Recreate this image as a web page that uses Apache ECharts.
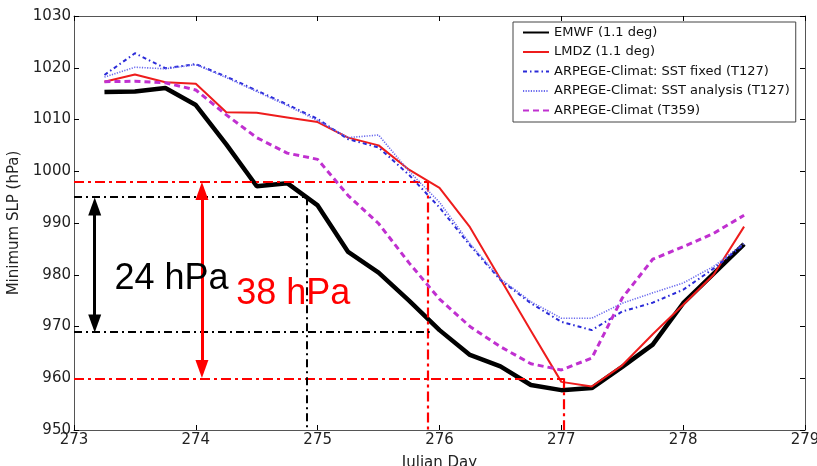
<!DOCTYPE html>
<html>
<head>
<meta charset="utf-8">
<script src="https://cdn.jsdelivr.net/npm/echarts@6/dist/echarts.min.js"></script>
<style>
html,body{margin:0;padding:0;background:#fff;}
#chart{width:817px;height:466px;}
</style>
</head>
<body>
<div id="chart"></div>
<script>
// ---- data ----
const days = [273.25, 273.5, 273.75, 274, 274.25, 274.5, 274.75, 275, 275.25, 275.5, 275.75, 276, 276.25, 276.5, 276.75, 277, 277.25, 277.5, 277.75, 278, 278.25, 278.5];
const emwf = [1015.3, 1015.4, 1016.1, 1012.8, 1005.2, 997.1, 997.7, 993.4, 984.4, 980.4, 975.0, 969.3, 964.5, 962.3, 958.7, 957.7, 958.1, 962.2, 966.5, 974.5, 980.2, 985.9];
const lmdz = [1017.3, 1018.7, 1017.2, 1016.9, 1011.4, 1011.3, 1010.4, 1009.5, 1006.5, 1005.0, 1000.3, 996.8, 989.2, 979.2, 969.2, 959.3, 958.4, 962.5, 968.5, 974.2, 980.0, 989.3];
const sstFixed = [1018.6, 1022.8, 1019.9, 1020.7, 1018.3, 1015.6, 1012.9, 1010.1, 1006.2, 1004.6, 999.3, 993.0, 985.7, 979.0, 974.5, 970.9, 969.3, 972.9, 974.6, 977.1, 981.2, 985.9];
const sstAnalysis = [1018.2, 1020.1, 1019.8, 1020.6, 1018.1, 1015.4, 1012.7, 1009.8, 1006.5, 1007.0, 1000.0, 994.0, 986.0, 979.2, 974.8, 971.6, 971.6, 974.5, 976.5, 978.4, 981.6, 986.1];
const arpegeT359 = [1017.3, 1017.4, 1017.1, 1015.7, 1010.9, 1006.5, 1003.5, 1002.3, 995.3, 989.9, 982.3, 975.3, 970.0, 966.1, 962.8, 961.6, 963.9, 975.5, 983.0, 985.4, 988.0, 991.5];

const seriesNames = ['EMWF (1.1 deg)', 'LMDZ (1.1 deg)', 'ARPEGE-Climat: SST fixed (T127)', 'ARPEGE-Climat: SST analysis (T127)', 'ARPEGE-Climat (T359)'];

// axis ranges / ticks
const xMin = 273, xMax = 279, xStep = 1;
const yMin = 950, yMax = 1030, yStep = 10;

// annotation (reference lines, arrows, texts) in data units
const redRefSegments = [
  [[273, 998], [275.9, 998]],
  [[275.9, 998], [275.9, 950]],
  [[273, 960], [277.02, 960]],
  [[277.02, 960], [277.02, 950]]
];
const blackRefSegments = [
  [[273, 995], [274.91, 995]],
  [[274.91, 995], [274.91, 950]],
  [[273, 969], [275.92, 969]]
];
const blackArrow = [[273.17, 993.2], [273.17, 970.6]];
const redArrow = [[274.05, 996.2], [274.05, 961.8]];
const notes = [
  { text: '24 hPa', x: 273.8, y: 979.2, color: '#000000' },
  { text: '38 hPa', x: 274.8, y: 976.2, color: '#ff0000' }
];

// ---- chart ----
const FONT = 'DejaVu Sans';
const pairs = vals => days.map((d, i) => [d, vals[i]]);

const chart = echarts.init(document.getElementById('chart'), null, { renderer: 'canvas' });

const lineStyles = [
  { color: '#000000', width: 4.5, type: 'solid' },
  { color: '#ee1c1c', width: 2, type: 'solid' },
  { color: '#2a2ad8', width: 2, type: [4, 3, 1.5, 3] },
  { color: '#6a6aee', width: 1.6, type: [1.2, 1.4] },
  { color: '#c030d0', width: 3, type: [6, 4] }
];
const dataSets = [emwf, lmdz, sstFixed, sstAnalysis, arpegeT359];

const dataSeries = dataSets.map((vals, k) => ({
  name: seriesNames[k],
  type: 'line',
  data: pairs(vals),
  showSymbol: false,
  symbol: 'none',
  smooth: false,
  animation: false,
  lineStyle: lineStyles[k],
  itemStyle: { color: lineStyles[k].color },
  z: 3 + k
}));

const annotSeries = {
  name: 'annot',
  type: 'line',
  data: [],
  animation: false,
  z: 2,
  markLine: {
    silent: true,
    animation: false,
    symbol: ['none', 'none'],
    label: { show: false },
    data: [
      ...redRefSegments.map(s => [{ coord: s[0], lineStyle: { color: '#ff0000', width: 2.2, type: [10, 4, 3, 4] } }, { coord: s[1] }]),
      ...blackRefSegments.map(s => [{ coord: s[0], lineStyle: { color: '#000000', width: 2, type: [8, 4, 2, 4] } }, { coord: s[1] }])
    ]
  }
};

const arrowSeries = {
  name: 'arrows',
  type: 'line',
  data: [],
  animation: false,
  z: 10,
  markLine: {
    silent: true,
    animation: false,
    symbol: ['triangle', 'triangle'],
    symbolSize: [13, 18],
    label: { show: false },
    data: [
      [{ coord: blackArrow[0], lineStyle: { color: '#000000', width: 3, type: 'solid' }, itemStyle: { color: '#000000' } }, { coord: blackArrow[1] }],
      [{ coord: redArrow[0], lineStyle: { color: '#ff0000', width: 3, type: 'solid' }, itemStyle: { color: '#ff0000' } }, { coord: redArrow[1] }]
    ]
  },
  markPoint: {
    silent: true,
    animation: false,
    symbol: 'circle',
    symbolSize: 0,
    data: notes.map(n => ({
      coord: [n.x, n.y],
      name: n.text,
      label: {
        show: true, position: 'inside', formatter: n.text,
        color: n.color, fontSize: 36, fontFamily: 'Liberation Sans'
      }
    }))
  }
};

const axisLineStyle = { color: '#555555', width: 1 };
const tickStyle = { color: '#000000', width: 1 };
const plainNum = v => String(v);

chart.setOption({
  backgroundColor: '#ffffff',
  animation: false,
  grid: { left: 74, right: 12, top: 16, bottom: 36, show: false, containLabel: false, outerBoundsMode: 'none' },
  legend: {
    data: seriesNames,
    orient: 'vertical',
    left: 513, top: 22,
    itemWidth: 26, itemHeight: 14, itemGap: 6.5,
    padding: [4, 6, 5, 9],
    backgroundColor: '#ffffff',
    borderColor: '#444444', borderWidth: 1,
    borderRadius: 0,
    itemStyle: { opacity: 0, borderWidth: 0 },
    textStyle: { fontFamily: FONT, fontSize: 13, color: '#111111' },
    selectedMode: false
  },
  xAxis: [
    {
      type: 'value', min: xMin, max: xMax, interval: xStep, position: 'bottom',
      axisLine: { show: true, lineStyle: axisLineStyle },
      axisTick: { show: true, inside: true, length: 5, lineStyle: tickStyle },
      splitLine: { show: false },
      axisLabel: { show: true, fontFamily: FONT, fontSize: 15, color: '#222222', margin: 3, formatter: plainNum },
      name: 'Julian Day', nameLocation: 'middle', nameGap: 26,
      nameTextStyle: { fontFamily: FONT, fontSize: 15, color: '#222222' }
    },
    {
      type: 'value', min: xMin, max: xMax, interval: xStep, position: 'top',
      axisLine: { show: true, lineStyle: axisLineStyle },
      axisTick: { show: true, inside: true, length: 5, lineStyle: tickStyle },
      splitLine: { show: false },
      axisLabel: { show: false }
    }
  ],
  yAxis: [
    {
      type: 'value', min: yMin, max: yMax, interval: yStep, position: 'left',
      axisLine: { show: true, lineStyle: axisLineStyle },
      axisTick: { show: true, inside: true, length: 5, lineStyle: tickStyle },
      splitLine: { show: false },
      axisLabel: { show: true, fontFamily: FONT, fontSize: 15, color: '#222222', margin: 3, formatter: plainNum },
      name: 'Minimum SLP (hPa)', nameLocation: 'middle', nameGap: 47,
      nameTextStyle: { fontFamily: FONT, fontSize: 15, color: '#222222' }
    },
    {
      type: 'value', min: yMin, max: yMax, interval: yStep, position: 'right',
      axisLine: { show: true, lineStyle: axisLineStyle },
      axisTick: { show: true, inside: true, length: 5, lineStyle: tickStyle },
      splitLine: { show: false },
      axisLabel: { show: false }
    }
  ],
  series: [annotSeries, ...dataSeries, arrowSeries]
});
</script>
</body>
</html>
